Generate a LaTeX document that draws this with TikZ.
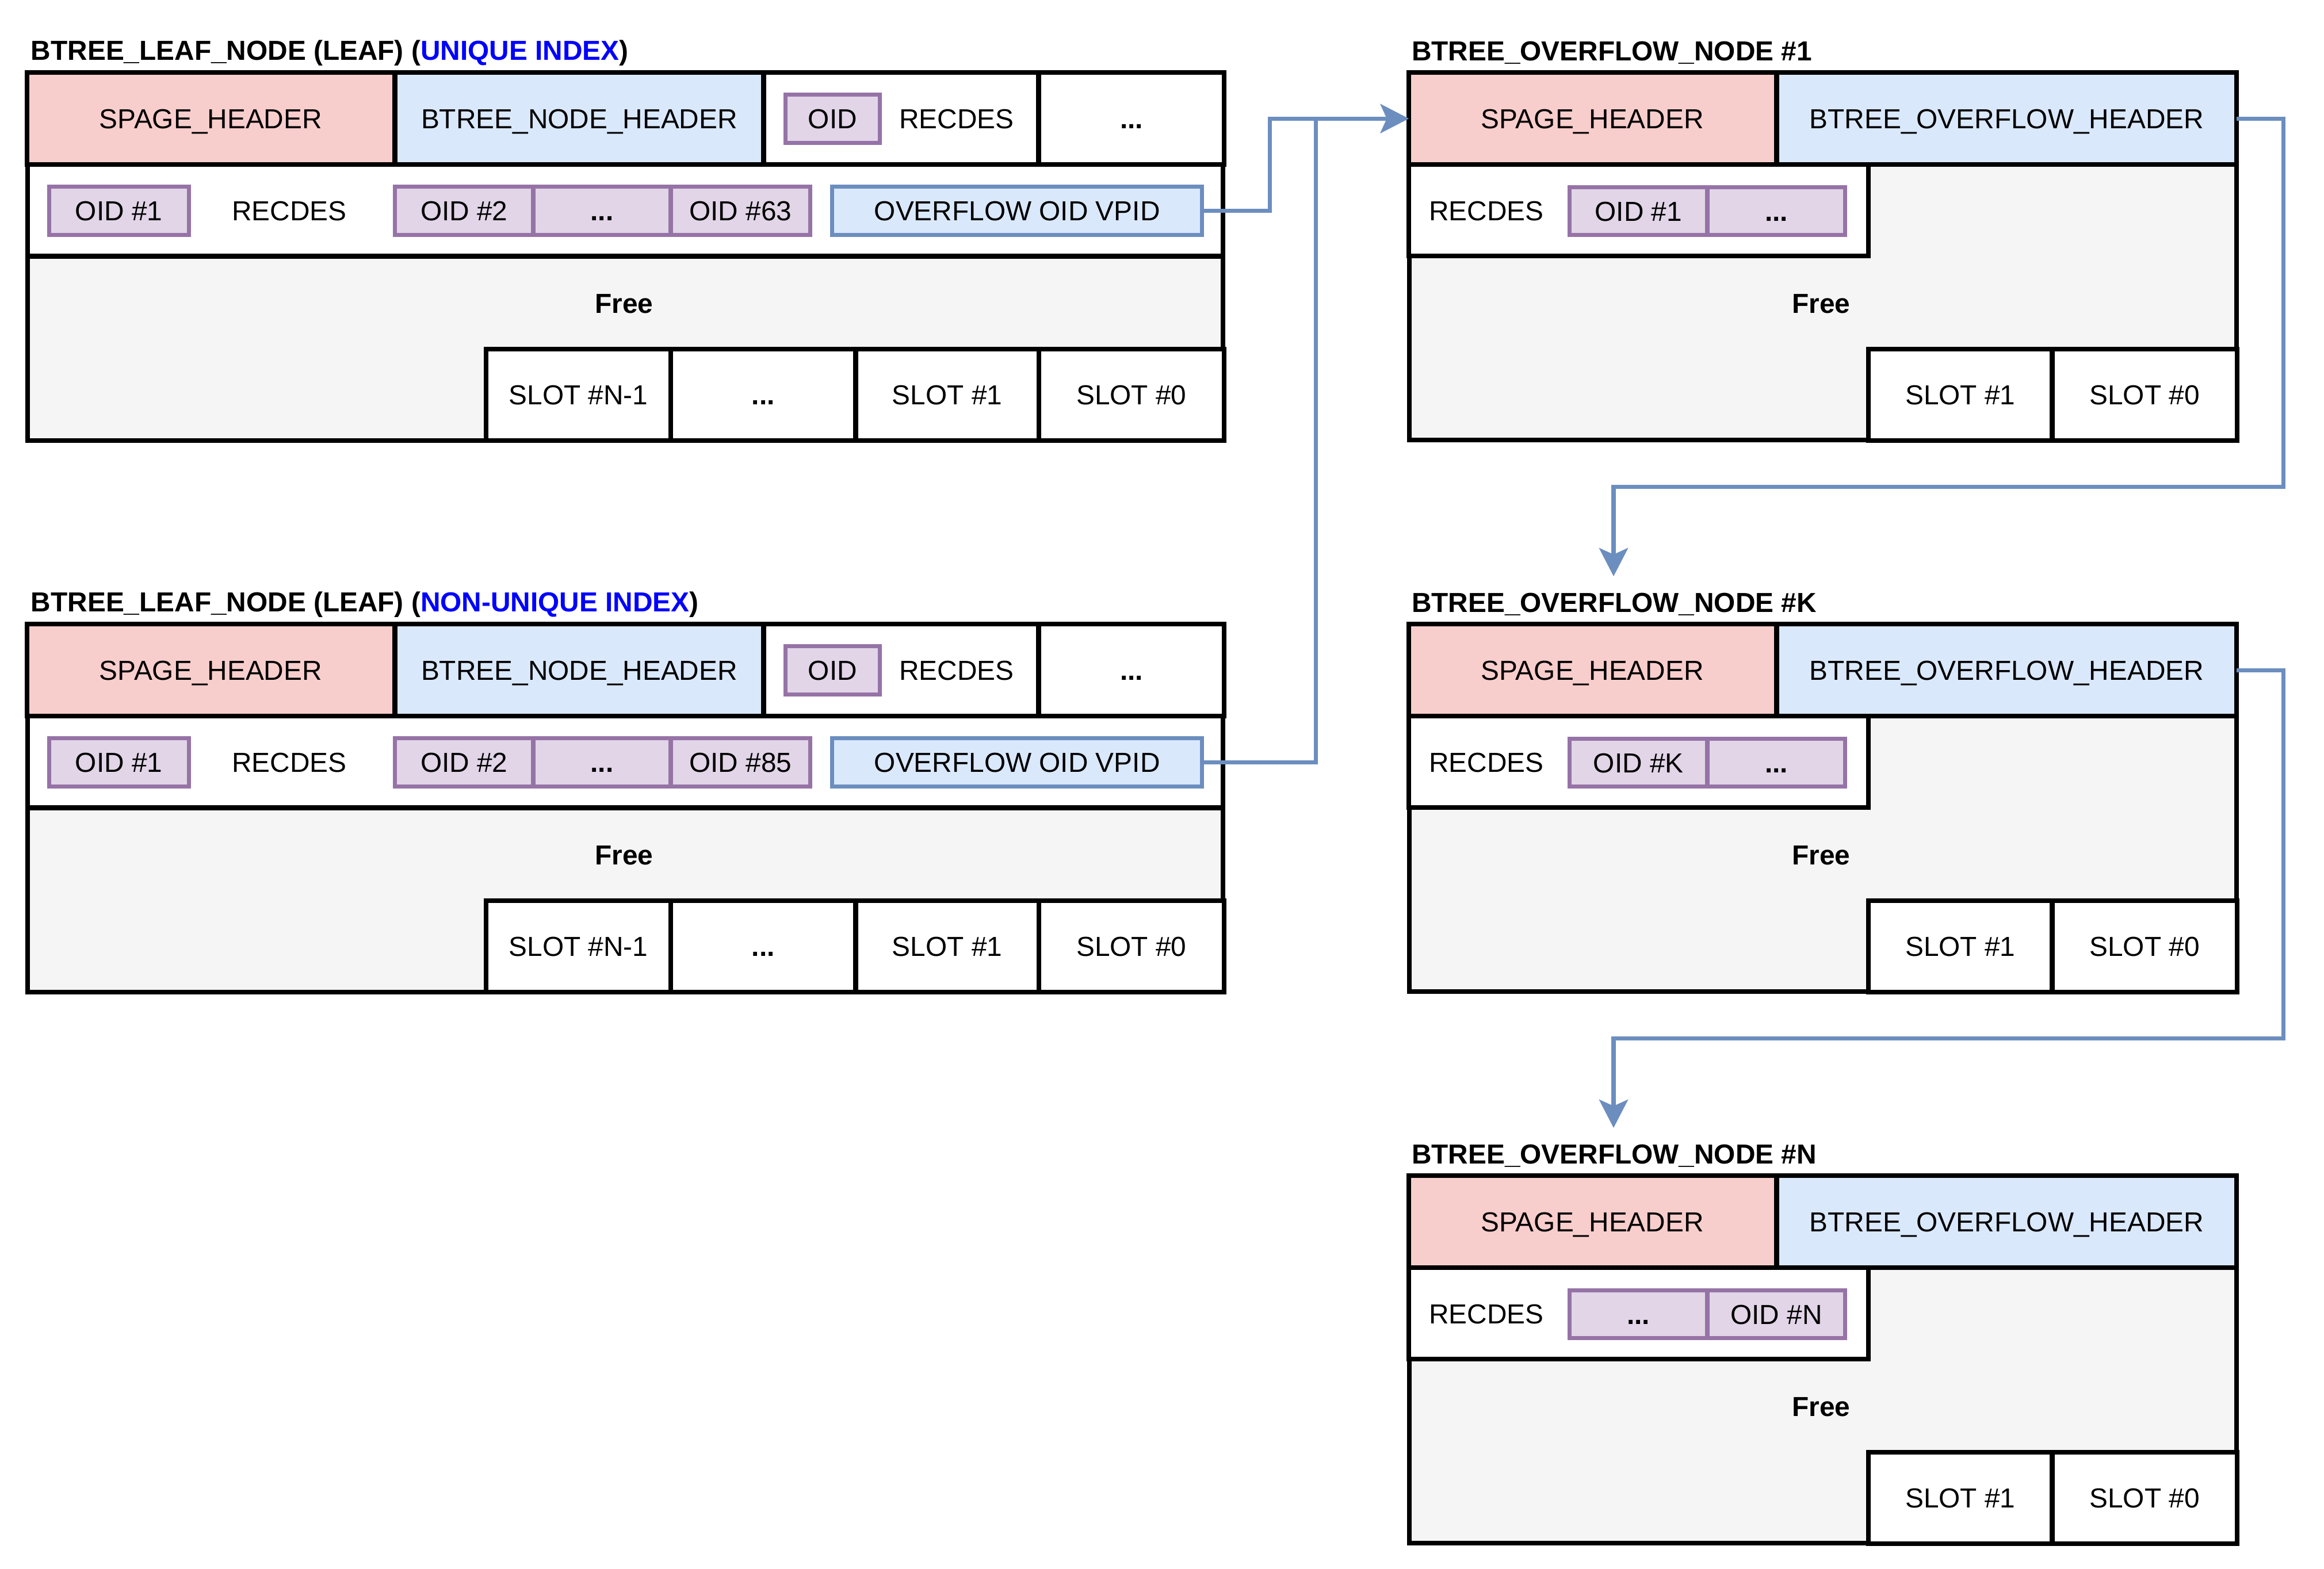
\documentclass[tikz,border=0pt]{standalone}
\usepackage{fontspec}
\setmainfont{Liberation Sans}
\usetikzlibrary{arrows.meta}
\definecolor{redf}{HTML}{F8CECC}
\definecolor{bluef}{HTML}{DAE8FC}
\definecolor{blues}{HTML}{6C8EBF}
\definecolor{purf}{HTML}{E1D5E7}
\definecolor{purs}{HTML}{9673A6}
\definecolor{grayf}{HTML}{F5F5F5}
\definecolor{titleblue}{HTML}{0000FF}
\newcommand\basefont{\fontsize{13.6}{16}\selectfont}
\tikzset{
  cell/.style={draw=black, line width=0.08cm, inner sep=0pt, outer sep=0pt, text height=0.345cm, text depth=0cm, align=center},
  pbox/.style={draw=purs, fill=purf, line width=0.07cm},
  obox/.style={draw=blues, fill=bluef, line width=0.07cm},
  lbl/.style={inner sep=0pt, outer sep=0pt, text height=0.345cm, text depth=0cm},
  boldlbl/.style={lbl, font=\basefont\bfseries},
  title/.style={inner sep=0pt, outer sep=0pt, text height=0.345cm, text depth=0cm, font=\basefont\bfseries},
  conn/.style={draw=blues, line width=0.073cm, -{Stealth[length=0.49cm,width=0.50cm,inset=0.11cm]}}
}
\newcommand\cellbox[7]{\node[cell,#6,minimum width={(#4-#2)*0.01cm},minimum height={(#5-#3)*0.01cm}] (#1) at ({(#2+#4)*0.005},{-(#3+#5)*0.005}) {#7};}
\newcommand\leafnode[3]{%
  \node[title,anchor=west] (#1title) at (0.54,-0.87) {BTREE\_LEAF\_NODE (LEAF) (\textcolor{titleblue}{#2})};
  \cellbox{#1row}{46}{286}{2126}{445}{fill=white}{}
  \cellbox{#1free}{46}{445}{2126}{765}{fill=grayf}{}
  \cellbox{#1sp}{46}{126}{686}{286}{fill=redf}{SPAGE\_HEADER}
  \cellbox{#1nh}{686}{126}{1326}{286}{fill=bluef}{BTREE\_NODE\_HEADER}
  \cellbox{#1rc}{1326}{126}{1804}{286}{fill=white}{}
  \cellbox{#1td}{1804}{126}{2126}{286}{fill=white}{\bfseries ...}
  \cellbox{#1oid}{1364}{164}{1528}{248}{pbox}{OID}
  \node[lbl] (#1rct) at (16.63,-2.06) {RECDES};
  \cellbox{#1o1}{85}{324}{328}{408}{pbox}{OID \#1}
  \node[lbl] (#1rct2) at (5.03,-3.66) {RECDES};
  \cellbox{#1o2}{686}{324}{926}{408}{pbox}{OID \#2}
  \cellbox{#1od}{926}{324}{1165}{408}{pbox}{\bfseries ...}
  \cellbox{#1ol}{1165}{324}{1407}{408}{pbox}{OID \##3}
  \cellbox{#1ovf}{1445}{324}{2088}{408}{obox}{OVERFLOW OID VPID}
  \node[boldlbl] (#1freet) at (10.85,-5.27) {Free};
  \cellbox{#1sn}{844}{606}{1165}{765}{fill=white}{SLOT \#N-1}
  \cellbox{#1sd}{1165}{606}{1486}{765}{fill=white}{\bfseries ...}
  \cellbox{#1s1}{1486}{606}{1804}{765}{fill=white}{SLOT \#1}
  \cellbox{#1s0}{1804}{606}{2126}{765}{fill=white}{SLOT \#0}
}
\newcommand\ovfnode[4]{%
  \node[title,anchor=west] (#1title) at (24.54,-0.88) {BTREE\_OVERFLOW\_NODE \##2};
  \cellbox{#1outer}{2446}{126}{3885}{765}{fill=grayf}{}
  \cellbox{#1sp}{2446}{126}{3085}{286}{fill=redf}{SPAGE\_HEADER}
  \cellbox{#1oh}{3085}{126}{3885}{286}{fill=bluef}{BTREE\_OVERFLOW\_HEADER}
  \cellbox{#1rec}{2446}{286}{3245}{445}{fill=white}{}
  \cellbox{#1s1}{3245}{606}{3564}{765}{fill=white}{SLOT \#1}
  \cellbox{#1s0}{3564}{606}{3885}{765}{fill=white}{SLOT \#0}
  \cellbox{#1oa}{2726}{325}{2965}{408}{pbox}{#3}
  \cellbox{#1ob}{2965}{325}{3205}{408}{pbox}{#4}
  \node[lbl] (#1rect) at (25.84,-3.66) {RECDES};
  \node[boldlbl] (#1freet) at (31.66,-5.27) {Free};
}
\begin{document}
\begin{tikzpicture}[font=\basefont]
\useasboundingbox (0,0) rectangle (40.40,-27.28);
\begin{scope}
  \leafnode{La}{UNIQUE INDEX}{63}
  \ovfnode{Oa}{1}{OID \#1}{\bfseries ...}
\end{scope}
\begin{scope}[yshift=-9.59cm]
  \leafnode{Lb}{NON-UNIQUE INDEX}{85}
  \ovfnode{Ok}{K}{OID \#K}{\bfseries ...}
\end{scope}
\begin{scope}[yshift=-19.18cm]
  \ovfnode{On}{N}{\bfseries ...}{OID \#N}
\end{scope}
\coordinate (k1) at (28.05,-10.02);
\coordinate (k2) at (28.05,-19.61);
\draw[conn] (Laovf.east) -- ++(1.18,0) |- (Oasp.west);
\draw[conn] (Lbovf.east) -- ++(1.98,0) |- (Oasp.west);
\draw[conn] (Oaoh.east) -- ++(0.81,0) -- ++(0,-6.40) -| (k1);
\draw[conn] (Okoh.east) -- ++(0.81,0) -- ++(0,-6.40) -| (k2);
\end{tikzpicture}
\end{document}
